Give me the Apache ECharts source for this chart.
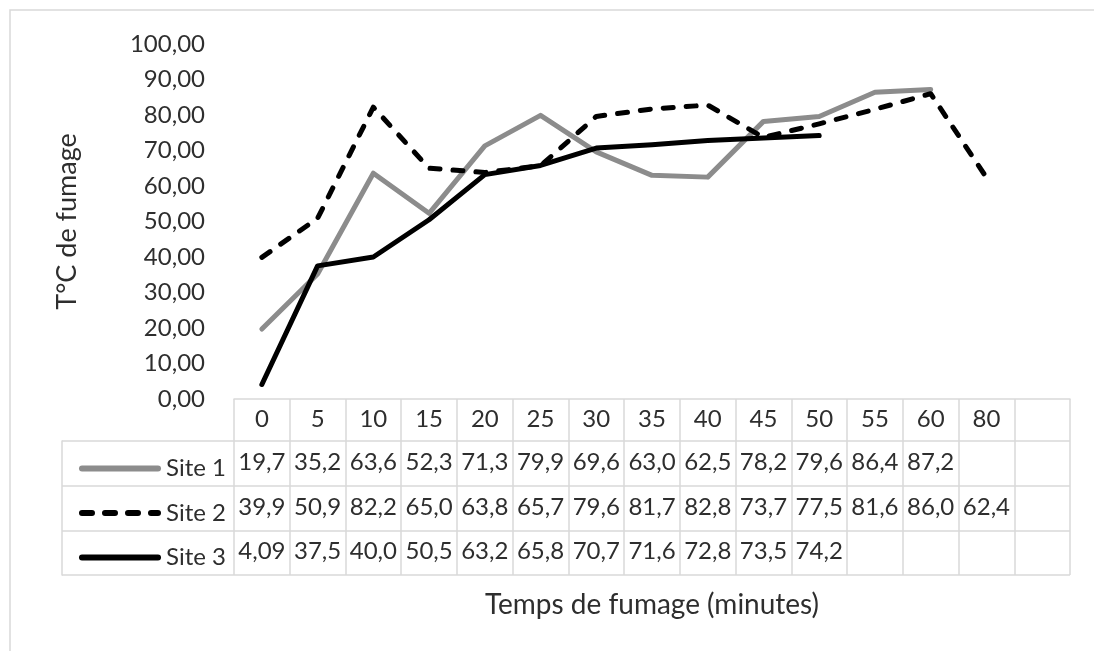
<!DOCTYPE html>
<html>
<head>
<meta charset="utf-8">
<script src="https://cdn.jsdelivr.net/npm/echarts@6/dist/echarts.min.js"></script>
<style>html,body{margin:0;padding:0;background:#fff}#c{width:1094px;height:651px}</style>
</head>
<body>
<div id="c"></div>
<script>
const categories = ['0','5','10','15','20','25','30','35','40','45','50','55','60','80',''];
const site1 = [19.7, 35.2, 63.6, 52.3, 71.3, 79.9, 69.6, 63.0, 62.5, 78.2, 79.6, 86.4, 87.2, null, null];
const site2 = [39.9, 50.9, 82.2, 65.0, 63.8, 65.7, 79.6, 81.7, 82.8, 73.7, 77.5, 81.6, 86.0, 62.4, null];
const site3 = [4.09, 37.5, 40.0, 50.5, 63.2, 65.8, 70.7, 71.6, 72.8, 73.5, 74.2, null, null, null, null];
const seriesNames = ['Site 1', 'Site 2', 'Site 3'];
const yTicks = {min: 0, max: 100, interval: 10};

const FONT = 'Lato';
const TXT = '#2e2e2e';
const GRID = '#d9d9d9';
const fmt = v => (v === null || v === undefined) ? '' : v.toPrecision(3).replace('.', ',');

const tableAxis = (vals, offset) => ({
  type: 'category', gridIndex: 0, position: 'bottom', offset: offset,
  data: vals.map(fmt), boundaryGap: true,
  axisLine: {show: false}, axisTick: {show: false}, splitLine: {show: false},
  axisLabel: {interval: 0, margin: 8, fontFamily: FONT, fontSize: 24, color: TXT}
});

const chart = echarts.init(document.getElementById('c'));
chart.setOption({
  animation: false,
  backgroundColor: '#fff',
  graphic: [{type: 'rect', shape: {x: 10, y: 10, width: 1100, height: 700}, style: {fill: 'none', stroke: GRID, lineWidth: 1.5}, silent: true}],
  grid: [
    {left: 234, right: 24, top: 44, height: 355},
    {left: 62, right: 24, top: 441, height: 134}
  ],
  legend: {
    orient: 'vertical', left: 74, top: 448.5, itemWidth: 76, itemHeight: 14, itemGap: 14.5,
    data: seriesNames,
    itemStyle: {opacity: 0},
    lineStyle: {width: 6, cap: 'round'},
    textStyle: {fontFamily: FONT, fontSize: 24, color: TXT, lineHeight: 30, padding: [0, 0, 0, 3]}
  },
  xAxis: [
    {
      type: 'category', gridIndex: 0, data: categories, boundaryGap: true,
      axisLine: {show: true, lineStyle: {color: GRID, width: 1.5}},
      axisTick: {show: true, interval: 0, length: 176, lineStyle: {color: GRID, width: 1.5}},
      axisLabel: {interval: 0, margin: 8, fontFamily: FONT, fontSize: 24, color: TXT},
      name: 'Temps de fumage (minutes)', nameLocation: 'middle', nameGap: 192,
      nameTextStyle: {fontFamily: FONT, fontSize: 28, color: TXT}
    },
    tableAxis(site1, 43),
    tableAxis(site2, 88),
    tableAxis(site3, 132),
    {type: 'value', gridIndex: 1, show: false}
  ],
  yAxis: [
    {
      type: 'value', gridIndex: 0, min: yTicks.min, max: yTicks.max, interval: yTicks.interval,
      axisLine: {show: false}, axisTick: {show: false}, splitLine: {show: false},
      axisLabel: {margin: 29, fontFamily: FONT, fontSize: 24, color: TXT,
        formatter: v => v.toFixed(2).replace('.', ',')},
      name: 'T°C de fumage', nameLocation: 'middle', nameGap: 153,
      nameTextStyle: {fontFamily: FONT, fontSize: 27, color: TXT}
    },
    {
      type: 'category', gridIndex: 1, data: seriesNames, inverse: true, boundaryGap: true,
      axisLabel: {show: false}, axisTick: {show: false},
      axisLine: {show: true, lineStyle: {color: GRID, width: 1.5}},
      splitLine: {show: true, interval: 0, lineStyle: {color: GRID, width: 1.5}}
    }
  ],
  series: [
    {name: seriesNames[0], type: 'line', xAxisIndex: 0, yAxisIndex: 0, data: site1, symbol: 'none',
      itemStyle: {color: '#8c8c8c'}, lineStyle: {color: '#8c8c8c', width: 5, cap: 'round', join: 'round'}},
    {name: seriesNames[1], type: 'line', xAxisIndex: 0, yAxisIndex: 0, data: site2, symbol: 'none',
      itemStyle: {color: '#000'}, lineStyle: {color: '#000', width: 5, type: [10, 13], cap: 'round', join: 'round'}},
    {name: seriesNames[2], type: 'line', xAxisIndex: 0, yAxisIndex: 0, data: site3, symbol: 'none',
      itemStyle: {color: '#000'}, lineStyle: {color: '#000', width: 5, cap: 'round', join: 'round'}}
  ]
});
</script>
</body>
</html>
